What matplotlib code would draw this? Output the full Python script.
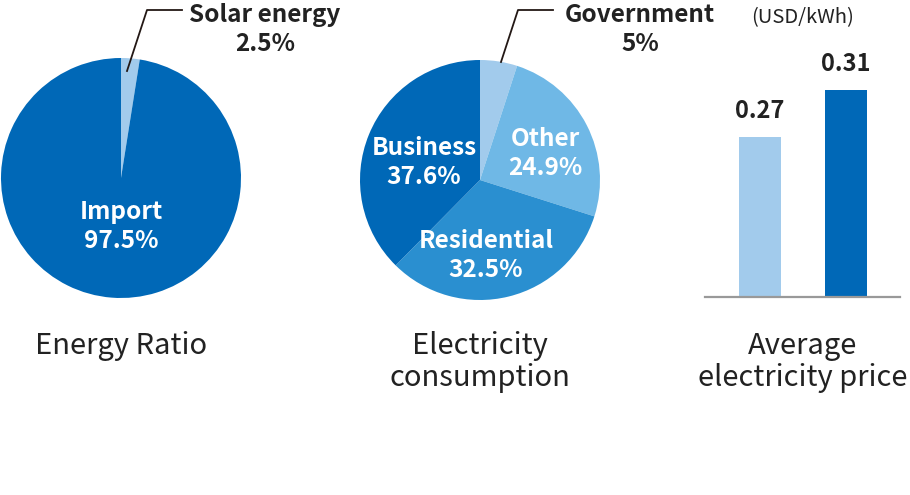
import matplotlib
matplotlib.use("Agg")
import matplotlib.pyplot as plt

plt.rcParams['font.family'] = ['Noto Sans CJK JP', 'DejaVu Sans']

# Data
energy_labels = ["Solar energy", "Import"]
energy_values = [2.5, 97.5]
cons_labels = ["Government", "Other", "Residential", "Business"]
cons_values = [5, 24.9, 32.5, 37.6]
price_labels = ["A", "B"]
price_values = [0.27, 0.31]

W, H = 910, 495
fig = plt.figure(figsize=(W / 100, H / 100), dpi=100)

def rect(x0, y0, x1, y1):
    return [x0 / W, 1 - y1 / H, (x1 - x0) / W, (y1 - y0) / H]

def P(x, y):
    return (x / W, 1 - y / H)

DARK = "#0068b7"
LIGHT = "#a2cbec"
MID = "#6fb8e6"
RES = "#2a8fd0"

# Pie 1
ax1 = fig.add_axes(rect(1, 58, 241, 298))
ax1.pie(energy_values, colors=[LIGHT, DARK], startangle=90, counterclock=False,
        radius=1, wedgeprops=dict(linewidth=0))
ax1.set_xlim(-1, 1); ax1.set_ylim(-1, 1); ax1.set_aspect('equal'); ax1.axis('off')

# Pie 2
ax2 = fig.add_axes(rect(360, 60, 600, 300))
ax2.pie(cons_values, colors=[LIGHT, MID, RES, DARK], startangle=90, counterclock=False,
        radius=1, wedgeprops=dict(linewidth=0))
ax2.set_xlim(-1, 1); ax2.set_ylim(-1, 1); ax2.set_aspect('equal'); ax2.axis('off')

# Bars
ax3 = fig.add_axes(rect(705, 40, 900, 297))
x = [0, 1]
ax3.bar(x, price_values, width=0.49, color=[LIGHT, DARK], bottom=0)
ymin = 0.134
ax3.set_ylim(ymin, ymin + (297 - 40) / 1176)
ax3.set_xlim(-0.64, 1.63)
for s in ['top', 'right', 'left']:
    ax3.spines[s].set_visible(False)
ax3.spines['bottom'].set_color('#999999')
ax3.spines['bottom'].set_linewidth(1.6)
ax3.set_xticks([]); ax3.set_yticks([])
ax3.patch.set_alpha(0)
for xi, v in zip(x, price_values):
    ax3.annotate(f"{v:.2f}", (xi, v), xytext=(0, 10), textcoords='offset points',
                 ha='center', va='bottom', fontsize=17, fontweight='bold', color='#222222')

# Leader lines
fig.add_artist(plt.Line2D([127 / W, 147 / W, 182 / W], [1 - 71 / H, 1 - 10 / H, 1 - 10 / H],
                          color='#231815', lw=1.3, transform=fig.transFigure))
fig.add_artist(plt.Line2D([501 / W, 518 / W, 553 / W], [1 - 62 / H, 1 - 10 / H, 1 - 10 / H],
                          color='#231815', lw=1.3, transform=fig.transFigure))

lab = dict(ha='center', va='center', fontsize=17.5, fontweight='bold')
fig.text(*P(265, 15), energy_labels[0], color='#222222', **lab)
fig.text(*P(265, 44), f"{energy_values[0]}%", color='#222222', **lab)
fig.text(*P(121, 212), energy_labels[1], color='white', **lab)
fig.text(*P(121, 241), f"{energy_values[1]}%", color='white', **lab)

fig.text(*P(640, 15), cons_labels[0], color='#222222', **lab)
fig.text(*P(640, 44), f"{cons_values[0]}%", color='#222222', **lab)
fig.text(*P(545, 139), cons_labels[1], color='white', **lab)
fig.text(*P(545, 168), f"{cons_values[1]}%", color='white', **lab)
fig.text(*P(486, 241), cons_labels[2], color='white', **lab)
fig.text(*P(486, 270), f"{cons_values[2]}%", color='white', **lab)
fig.text(*P(424, 148), cons_labels[3], color='white', **lab)
fig.text(*P(424, 177), f"{cons_values[3]}%", color='white', **lab)

fig.text(*P(803, 18), "(USD/kWh)", ha='center', va='center', fontsize=14.5, color='#222222')

tt = dict(ha='center', va='center', fontsize=21, color='#222222', linespacing=1.1)
fig.text(*P(121, 346), "Energy Ratio", **tt)
fig.text(*P(480, 362), "Electricity\nconsumption", **tt)
fig.text(*P(803, 362), "Average\nelectricity price", **tt)

fig.savefig("out.png", dpi=100)
